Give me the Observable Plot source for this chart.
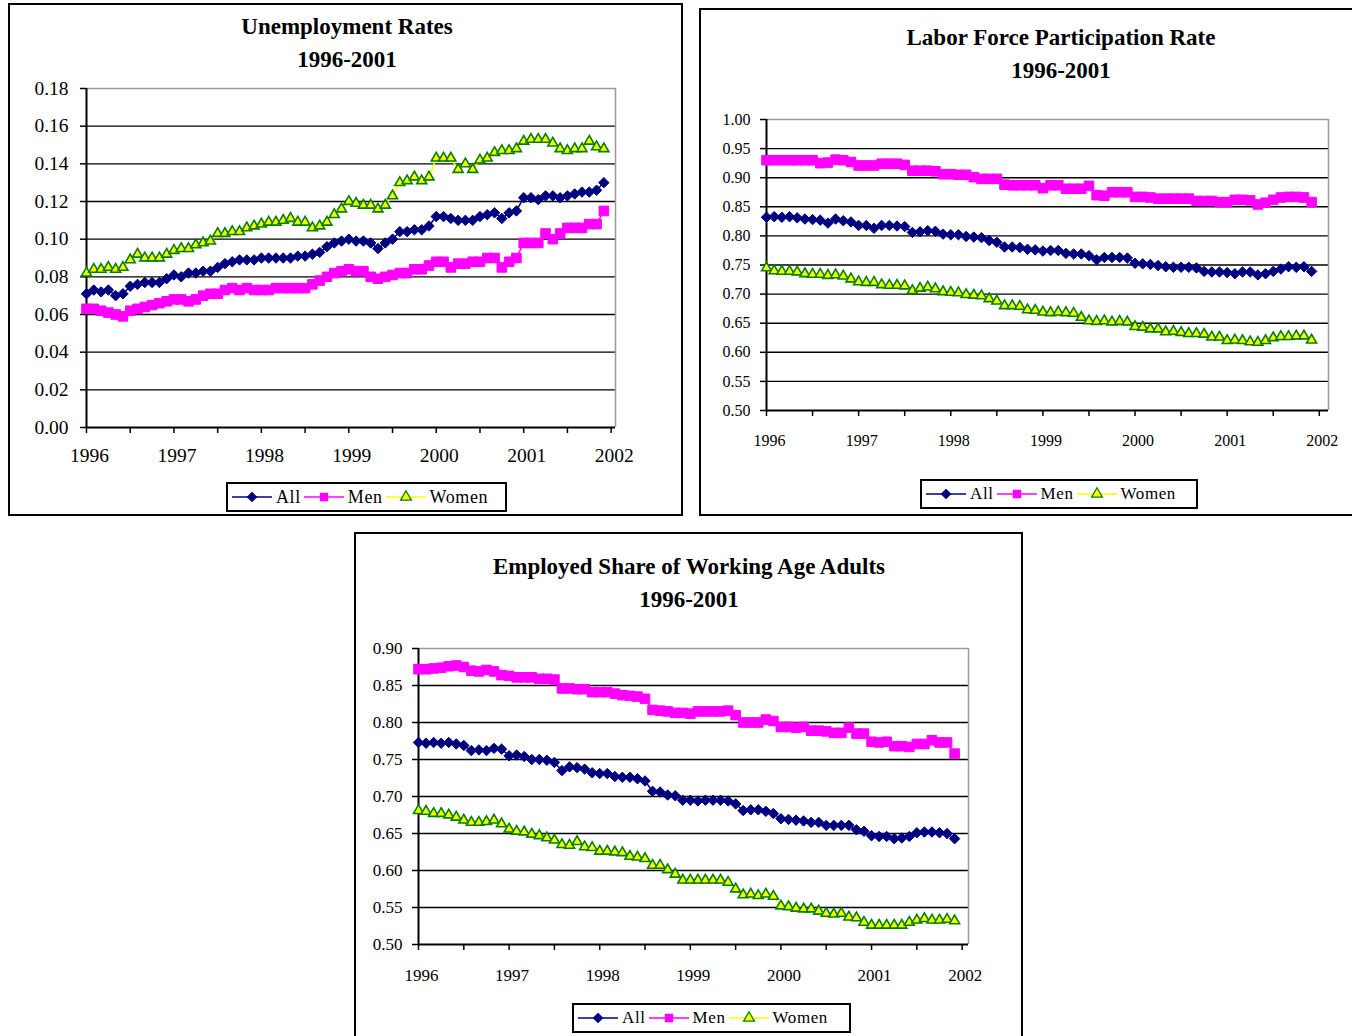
<!DOCTYPE html>
<html><head><meta charset="utf-8">
<script src="https://cdn.jsdelivr.net/npm/d3@7"></script>
<script src="https://cdn.jsdelivr.net/npm/@observablehq/plot@0.6"></script>
<style>
body{margin:0;background:#fff;font-family:"Liberation Serif","Times New Roman",serif;}
#page{position:relative;width:1352px;height:1036px;overflow:hidden;background:#fff;}
.panel{position:absolute;border:2px solid #000;box-sizing:border-box;background:#fff;}
.title{position:absolute;text-align:center;font-weight:bold;font-size:23px;line-height:33px;color:#000;}
.chart{position:absolute;}
.legend{position:absolute;border:2px solid #000;box-sizing:border-box;background:#fff;display:flex;align-items:center;padding-left:4px;color:#000;letter-spacing:0.6px;}
.legend .item{display:flex;align-items:center;margin-right:3px;}
.legend svg{display:block;margin-right:4px;}
</style></head><body><div id="page"></div>
<script>
// ---------- data ----------
const startYear = 1996;           // monthly series, Jan 1996 - Dec 2001
const seriesNames = ["All", "Men", "Women"];

const unempAll = [.071,.073,.072,.073,.070,.071,.075,.076,.077,.077,.077,.079,
  .081,.080,.082,.082,.083,.083,.085,.087,.088,.089,.089,.089,
  .090,.090,.090,.090,.090,.091,.091,.092,.093,.096,.098,.099,
  .100,.099,.099,.098,.095,.098,.100,.104,.104,.105,.105,.107,
  .112,.112,.111,.110,.110,.110,.112,.113,.114,.111,.114,.115,
  .122,.122,.121,.123,.123,.122,.123,.124,.125,.125,.126,.130];
const unempMen = [.063,.063,.062,.061,.060,.059,.062,.063,.064,.065,.066,.067,
  .068,.068,.067,.068,.070,.071,.071,.073,.074,.073,.074,.073,
  .073,.073,.074,.074,.074,.074,.074,.076,.078,.080,.082,.083,
  .084,.083,.083,.080,.079,.080,.081,.082,.082,.084,.084,.086,
  .088,.088,.085,.087,.087,.088,.088,.090,.090,.085,.088,.090,
  .098,.098,.098,.103,.100,.103,.106,.106,.106,.108,.108,.115];
const unempWomen = [.082,.084,.084,.085,.084,.085,.089,.092,.090,.090,.090,.092,
  .094,.095,.095,.097,.098,.099,.103,.103,.104,.104,.106,.107,
  .108,.109,.109,.110,.111,.109,.109,.106,.107,.109,.113,.116,
  .120,.119,.118,.118,.116,.118,.123,.130,.131,.133,.131,.133,
  .143,.143,.143,.137,.140,.137,.142,.143,.146,.147,.147,.148,
  .152,.153,.153,.153,.151,.148,.147,.148,.148,.152,.149,.148];

const lfprAll = [.832,.833,.832,.833,.831,.829,.828,.827,.822,.829,.826,.824,
  .818,.818,.813,.818,.818,.817,.816,.806,.807,.809,.808,.803,
  .802,.802,.799,.798,.797,.792,.789,.781,.781,.780,.777,.776,
  .774,.775,.775,.770,.769,.769,.766,.759,.763,.763,.763,.762,
  .753,.752,.751,.749,.747,.746,.746,.746,.745,.739,.738,.738,
  .737,.735,.738,.738,.733,.735,.739,.743,.747,.746,.747,.739];
const lfprMen = [.930,.930,.930,.930,.930,.930,.930,.925,.926,.931,.930,.927,
  .921,.921,.921,.924,.924,.924,.922,.912,.912,.912,.911,.906,
  .906,.905,.905,.901,.898,.898,.898,.888,.887,.887,.887,.887,
  .882,.887,.887,.881,.881,.881,.886,.870,.869,.875,.875,.875,
  .867,.867,.866,.864,.864,.864,.864,.864,.860,.860,.860,.858,
  .858,.862,.862,.861,.854,.857,.862,.866,.867,.867,.866,.858];
const lfprWomen = [.745,.740,.739,.739,.738,.735,.734,.734,.732,.733,.731,.726,
  .721,.720,.720,.716,.715,.715,.714,.706,.710,.712,.709,.704,
  .703,.702,.699,.698,.697,.692,.688,.680,.680,.679,.673,.672,
  .669,.668,.669,.668,.667,.660,.654,.653,.654,.652,.653,.652,
  .644,.643,.640,.640,.635,.636,.634,.632,.632,.631,.626,.626,
  .620,.621,.620,.618,.617,.620,.625,.627,.627,.628,.628,.621];

const epopAll = [.773,.772,.773,.772,.773,.771,.769,.762,.763,.762,.765,.764,
  .755,.756,.754,.750,.750,.749,.746,.735,.740,.739,.737,.732,
  .731,.731,.727,.726,.726,.724,.721,.707,.706,.702,.701,.695,
  .695,.694,.695,.695,.695,.694,.690,.681,.682,.682,.680,.677,
  .670,.669,.668,.667,.665,.665,.661,.661,.661,.661,.655,.653,
  .647,.646,.646,.643,.644,.646,.651,.652,.652,.651,.650,.643];
const epopMen = [.872,.872,.873,.874,.876,.877,.875,.870,.869,.871,.869,.864,
  .863,.861,.861,.861,.859,.859,.858,.846,.846,.845,.845,.841,
  .841,.841,.839,.837,.836,.835,.832,.817,.816,.815,.813,.813,
  .812,.815,.815,.815,.815,.816,.810,.800,.800,.800,.804,.802,
  .794,.794,.793,.794,.789,.789,.788,.786,.786,.793,.785,.785,
  .774,.773,.774,.768,.768,.767,.771,.771,.776,.773,.773,.758];
const epopWomen = [.681,.680,.677,.677,.675,.672,.668,.665,.665,.666,.668,.663,
  .656,.653,.652,.649,.647,.644,.641,.635,.634,.639,.632,.631,
  .626,.626,.625,.624,.619,.618,.616,.607,.607,.601,.595,.587,
  .587,.587,.587,.587,.587,.584,.575,.567,.568,.566,.568,.565,
  .552,.551,.549,.548,.548,.545,.542,.541,.542,.537,.536,.530,
  .526,.526,.526,.526,.526,.530,.533,.535,.533,.533,.534,.532];

const yTicksUnemp = [0,.02,.04,.06,.08,.10,.12,.14,.16,.18];
const yTicksLfpr = [.50,.55,.60,.65,.70,.75,.80,.85,.90,.95,1.00];
const yTicksEpop = [.50,.55,.60,.65,.70,.75,.80,.85,.90];
const xTickYears = [1996,1996.5,1997,1997.5,1998,1998.5,1999,1999.5,2000,2000.5,2001,2001.5,2002];
const xLabelYears = [1996,1997,1998,1999,2000,2001,2002];

const titles = [
  ["Unemployment Rates", "1996-2001"],
  ["Labor Force Participation Rate", "1996-2001"],
  ["Employed Share of Working Age Adults", "1996-2001"]
];

// ---------- styles ----------
const colors = {All: "#000080", Men: "#ff00ff", Women: "#ffff00"};
const markStroke = {All: "#000080", Men: "#ff00ff", Women: "#008000"};
const symbols = {All: "diamond2", Men: "square", Women: "triangle"};
const symbolR = {All: 4.7, Men: 5.4, Women: 3.7};

const page = document.getElementById("page");

function toRows(arrs) {
  const rows = [];
  seriesNames.forEach((s, k) => arrs[k].forEach((v, i) => rows.push({series: s, x: startYear + i / 12, y: v})));
  return rows;
}

function addBox(cls, left, top, width, height) {
  const d = document.createElement("div");
  d.className = cls;
  Object.assign(d.style, {left: left + "px", top: top + "px", width: width + "px", height: height + "px"});
  page.appendChild(d);
  return d;
}

function addTitle(lines, cx, top, w) {
  const d = document.createElement("div");
  d.className = "title";
  Object.assign(d.style, {left: (cx - w / 2) + "px", top: top + "px", width: w + "px"});
  d.innerHTML = lines.join("<br>");
  page.appendChild(d);
}

function addLegend(left, top, width, height, fs) {
  const d = addBox("legend", left, top, width, height);
  d.style.fontSize = fs + "px";
  seriesNames.forEach(s => {
    const it = document.createElement("div");
    it.className = "item";
    const svg = d3.create("svg").attr("width", 40).attr("height", 16);
    svg.append("line").attr("x1", 0).attr("x2", 40).attr("y1", 8).attr("y2", 8)
      .attr("stroke", colors[s]).attr("stroke-width", 1.5);
    const sym = {All: d3.symbolDiamond2, Men: d3.symbolSquare, Women: d3.symbolTriangle}[s];
    svg.append("path").attr("d", d3.symbol(sym, Math.PI * 16)())
      .attr("transform", "translate(20,8)")
      .attr("fill", colors[s]).attr("stroke", markStroke[s]).attr("stroke-width", 1.3);
    it.appendChild(svg.node());
    const t = document.createElement("span");
    t.textContent = s;
    it.appendChild(t);
    d.appendChild(it);
  });
}

function makeChart(cfg) {
  const rows = toRows(cfg.arrs);
  const [y0, y1] = cfg.yDomain;
  const grid = cfg.yTicks.filter(v => v > y0 + 1e-9 && v < y1 - 1e-9);
  const chart = Plot.plot({
    width: cfg.width, height: cfg.height,
    marginLeft: cfg.ml, marginRight: cfg.mr, marginTop: cfg.mt, marginBottom: cfg.mb,
    x: {domain: [1996, cfg.xMax]},
    y: {domain: cfg.yDomain},
    style: {fontFamily: "'Liberation Serif', 'Times New Roman', serif", fontSize: cfg.fs + "px", color: "#000", background: "transparent", overflow: "visible"},
    marks: [
      Plot.ruleY(grid, {stroke: "#000", strokeWidth: 1.4}),
      Plot.ruleY([y1], {stroke: "#9a9a9a", strokeWidth: 1.5}),
      Plot.ruleX([cfg.xMax], {stroke: "#9a9a9a", strokeWidth: 1.5}),
      Plot.axisY({ticks: cfg.yTicks, tickFormat: d3.format(".2f"), tickSize: 6, tickPadding: cfg.yPad, label: null, stroke: "#000", strokeWidth: 1.5}),
      Plot.axisX({ticks: xTickYears, tickFormat: () => "", tickSize: 6, label: null, stroke: "#000", strokeWidth: 1.5}),
      Plot.axisX({ticks: xLabelYears, tickFormat: d => String(d), tickSize: 0, tickPadding: 6 + cfg.xPad, label: null, dx: 3}),
      Plot.ruleX([1996], {stroke: "#000", strokeWidth: 2}),
      Plot.ruleY([y0], {stroke: "#000", strokeWidth: 2}),
      Plot.line(rows, {x: "x", y: "y", z: "series", stroke: d => colors[d.series], strokeWidth: 1.5}),
      ...seriesNames.map(s => Plot.dot(rows.filter(r => r.series === s), {
        x: "x", y: "y", symbol: symbols[s], r: symbolR[s],
        fill: colors[s], stroke: markStroke[s], strokeWidth: s === "Women" ? 1.6 : 1
      }))
    ]
  });
  chart.classList.add("chart");
  Object.assign(chart.style, {left: cfg.left + "px", top: cfg.top + "px", position: "absolute"});
  page.appendChild(chart);
}

// ---------- panel 1 ----------
addBox("panel", 8, 3, 675, 513);
addTitle(titles[0], 347, 10, 600);
makeChart({arrs: [unempAll, unempMen, unempWomen], yDomain: [0, .18], yTicks: yTicksUnemp,
  left: 12, top: 70, width: 666, height: 400, ml: 74, mr: 63, mt: 18, mb: 43, xMax: 2002.05,
  fs: 19.5, xPad: 15, yPad: 12});
addLegend(226, 482, 281, 30, 18);

// ---------- panel 2 ----------
addBox("panel", 699, 8, 670, 508);
addTitle(titles[1], 1061, 21, 600);
makeChart({arrs: [lfprAll, lfprMen, lfprWomen], yDomain: [.5, 1], yTicks: yTicksLfpr,
  left: 704, top: 100, width: 648, height: 360, ml: 62, mr: 24, mt: 19, mb: 50, xMax: 2002.1,
  fs: 16, xPad: 18, yPad: 10});
addLegend(920, 479, 278, 30, 17);

// ---------- panel 3 ----------
addBox("panel", 354, 532, 669, 520);
addTitle(titles[2], 689, 550, 600);
makeChart({arrs: [epopAll, epopMen, epopWomen], yDomain: [.5, .9], yTicks: yTicksEpop,
  left: 358, top: 630, width: 664, height: 360, ml: 60, mr: 54, mt: 18, mb: 46, xMax: 2002.07,
  fs: 17, xPad: 18, yPad: 10});
addLegend(572, 1003, 279, 30, 17);
</script></body></html>
